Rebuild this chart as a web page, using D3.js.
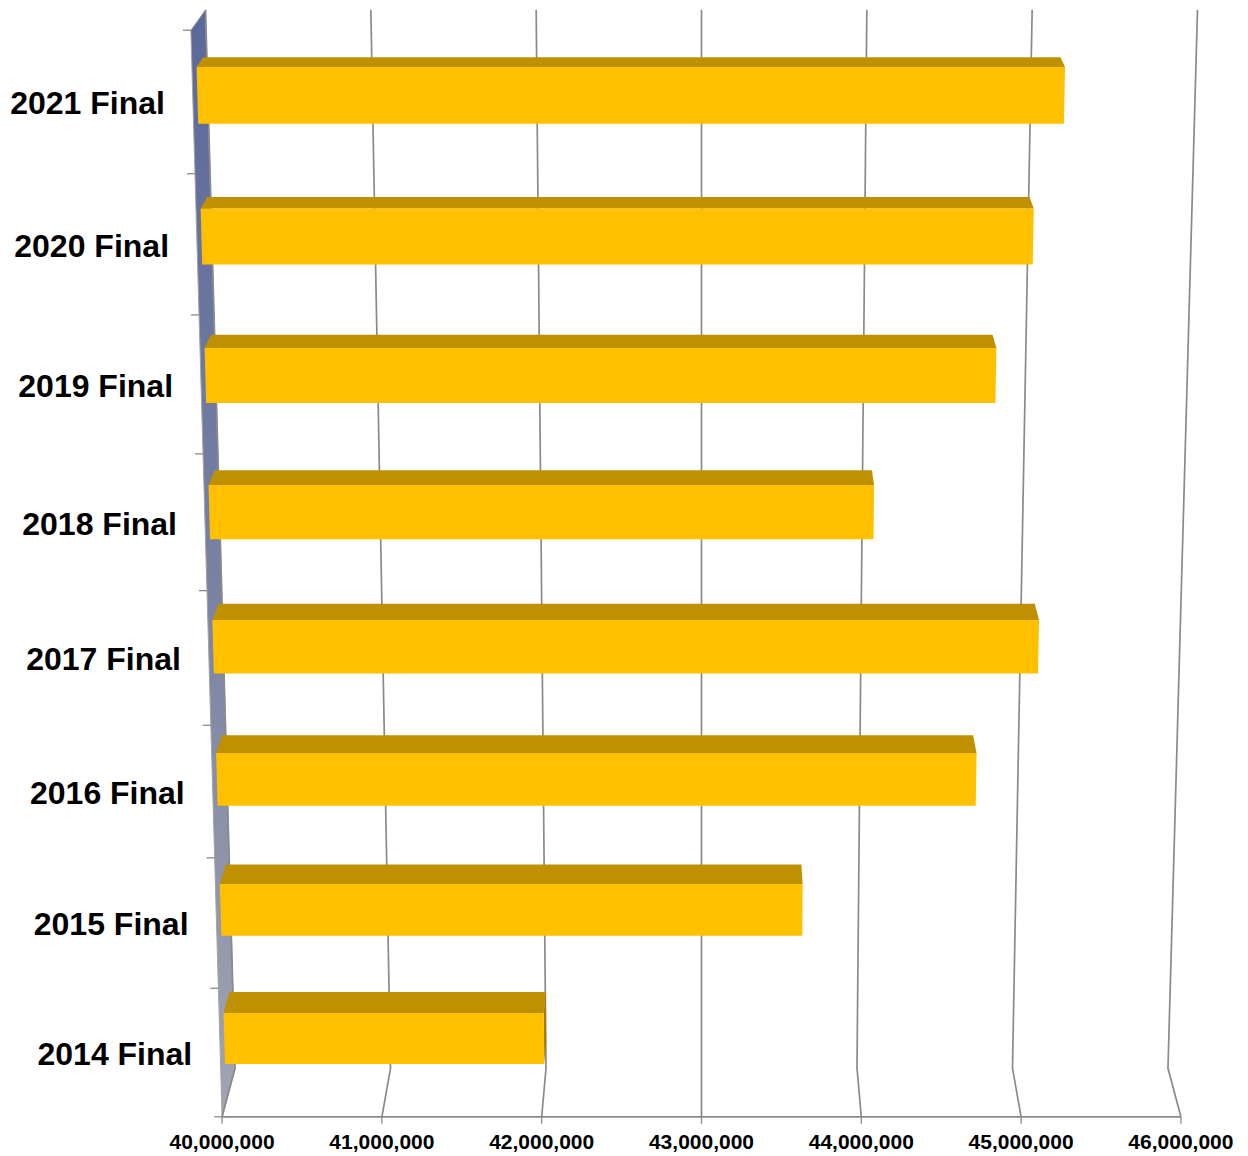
<!DOCTYPE html>
<html>
<head>
<meta charset="utf-8">
<script src="https://cdn.jsdelivr.net/npm/d3@7"></script>
<style>
    body { margin: 0; background: #fff; }
    .catLabel { font-family: "Liberation Sans", Arial, sans-serif; font-weight: bold; font-size: 32px; fill: #000; }
    .valLabel { font-family: "Liberation Sans", Arial, sans-serif; font-weight: bold; font-size: 21px; fill: #000; }
    .grid { stroke: #8a8a8a; stroke-width: 1.7; fill: none; }
    .tick { stroke: #8a8a8a; stroke-width: 1.3; }
</style>
</head>
<body>
<script>
//wrap everything in a self-executing anonymous function
(function(){

//chart data
var categories = ["2014 Final", "2015 Final", "2016 Final", "2017 Final",
                  "2018 Final", "2019 Final", "2020 Final", "2021 Final"];
var values = [42010000, 43630000, 44700000, 45070000,
              44050000, 44780000, 44990000, 45160000];
var tickValues = [40000000, 41000000, 42000000, 43000000, 44000000, 45000000, 46000000];

window.onload = setChart();

function setChart(){
    var width = 1248,
        height = 1156;

    //camera for the 3d look: pitched down, looking at the middle of the plot
    var theta = 15 * Math.PI / 180,
        cosT = Math.cos(theta),
        sinT = Math.sin(theta),
        focal = 4620,
        cx = 701.5,
        cy = 558;

    //project world point to screen
    function project(X, Y, Z){
        var up = Y * cosT + Z * sinT,
            fwd = -Y * sinT + Z * cosT;
        return [cx + focal * X / fwd, cy - focal * up / fwd];
    };

    //world scales
    var xScale = d3.scaleLinear()
        .domain([40000000, 46000000])
        .range([-3, 3]);

    var yTop = -4.03, yBottom = -10.86;
    var yScale = d3.scaleBand()
        .domain(categories)
        .range([yBottom, yTop])
        .paddingInner(0.6)
        .paddingOuter(0.3);

    var zScale = d3.scaleLinear()
        .domain([0, 1])
        .range([27.02, 27.85]); //front to back

    var zFront = zScale(0), zBack = zScale(1),
        barFront = zScale(0.30), barBack = zScale(0.75),
        xMin = xScale(40000000);

    var svg = d3.select("body")
        .append("svg")
        .attr("width", width)
        .attr("height", height);

    var line = d3.line();
    function poly(pts){
        return line(pts.map(function(p){ return project(p[0], p[1], p[2]); })) + "Z";
    };

    //wall gradient
    var grad = svg.append("defs")
        .append("linearGradient")
        .attr("id", "wallGrad")
        .attr("gradientUnits", "userSpaceOnUse")
        .attr("x1", 0).attr("y1", 10)
        .attr("x2", 0).attr("y2", 1117);
    grad.append("stop").attr("offset", 0).attr("stop-color", "#5a699b");
    grad.append("stop").attr("offset", 0.5).attr("stop-color", "#7880a3");
    grad.append("stop").attr("offset", 1).attr("stop-color", "#a2a5b2");

    //side wall
    svg.append("path")
        .attr("d", poly([[xMin, yTop, zBack], [xMin, yTop, zFront],
                         [xMin, yBottom, zFront], [xMin, yBottom, zBack]]))
        .style("fill", "url(#wallGrad)")
        .style("stroke", "#a3a3a3")
        .style("stroke-width", 1);

    //back wall and floor gridlines
    svg.selectAll(".gridBack")
        .data(tickValues)
        .enter()
        .append("path")
        .attr("class", "grid")
        .attr("d", function(d){
            var x = xScale(d);
            return line([project(x, yTop, zBack), project(x, yBottom, zBack), project(x, yBottom, zFront)]);
        });

    //front floor edge
    svg.append("path")
        .attr("class", "grid")
        .attr("d", line([project(xMin, yBottom, zFront), project(xScale(46000000), yBottom, zFront)]));

    //value ticks
    svg.selectAll(".valTick")
        .data(tickValues)
        .enter()
        .append("line")
        .attr("class", "tick")
        .attr("x1", function(d){ return project(xScale(d), yBottom, zFront)[0]; })
        .attr("x2", function(d){ return project(xScale(d), yBottom, zFront)[0]; })
        .attr("y1", function(d){ return project(xScale(d), yBottom, zFront)[1]; })
        .attr("y2", function(d){ return project(xScale(d), yBottom, zFront)[1] + 7; });

    //category ticks on the wall front edge
    var step = yScale.step();
    var edges = d3.range(categories.length + 1).map(function(i){ return yBottom + i * step; });
    svg.selectAll(".catTick")
        .data(edges)
        .enter()
        .append("line")
        .attr("class", "tick")
        .attr("x1", function(d){ return project(xMin, d, zFront)[0] - 8; })
        .attr("x2", function(d){ return project(xMin, d, zFront)[0]; })
        .attr("y1", function(d){ return project(xMin, d, zFront)[1]; })
        .attr("y2", function(d){ return project(xMin, d, zFront)[1]; });

    //bars, drawn from the back row (top) down
    var bars = categories.map(function(c, i){
        return {cat: c, val: values[i]};
    }).reverse();

    var barGroups = svg.selectAll(".bar")
        .data(bars)
        .enter()
        .append("g")
        .attr("class", "bar");

    //top face
    barGroups.append("path")
        .attr("d", function(d){
            var y1 = yScale(d.cat) + yScale.bandwidth(), x1 = xScale(d.val);
            return poly([[xMin, y1, barFront], [x1, y1, barFront], [x1, y1, barBack], [xMin, y1, barBack]]);
        })
        .style("fill", "#bf9000");

    //right end face, only seen when bar ends left of the camera
    barGroups.filter(function(d){ return xScale(d.val) < 0; })
        .append("path")
        .attr("d", function(d){
            var y0 = yScale(d.cat), y1 = y0 + yScale.bandwidth(), x1 = xScale(d.val);
            return poly([[x1, y1, barFront], [x1, y1, barBack], [x1, y0, barBack], [x1, y0, barFront]]);
        })
        .style("fill", "#a67c00");

    //front face
    barGroups.append("path")
        .attr("d", function(d){
            var y0 = yScale(d.cat), y1 = y0 + yScale.bandwidth(), x1 = xScale(d.val);
            return poly([[xMin, y1, barFront], [x1, y1, barFront], [x1, y0, barFront], [xMin, y0, barFront]]);
        })
        .style("fill", "#ffc000");

    //category labels
    svg.selectAll(".catLabel")
        .data(categories)
        .enter()
        .append("text")
        .attr("class", "catLabel")
        .attr("text-anchor", "end")
        .attr("dominant-baseline", "central")
        .attr("x", function(d){
            return project(xMin, yScale(d) + yScale.bandwidth() / 2, zFront)[0] - 28;
        })
        .attr("y", function(d){
            return project(xMin, yScale(d) + yScale.bandwidth() / 2, zFront)[1] + 1;
        })
        .text(function(d){ return d; });

    //value labels
    var fmt = d3.format(",");
    svg.selectAll(".valLabel")
        .data(tickValues)
        .enter()
        .append("text")
        .attr("class", "valLabel")
        .attr("text-anchor", "middle")
        .attr("x", function(d){ return project(xScale(d), yBottom, zFront)[0]; })
        .attr("y", function(d){ return project(xScale(d), yBottom, zFront)[1] + 32; })
        .text(function(d){ return fmt(d); });
};

})();
</script>
</body>
</html>
